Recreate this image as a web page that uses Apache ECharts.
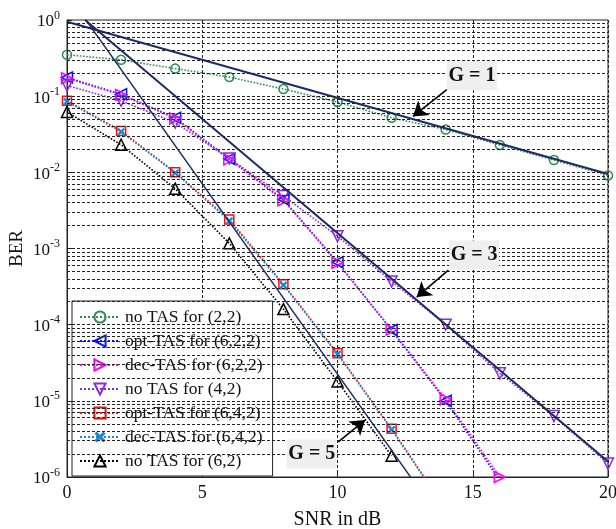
<!DOCTYPE html>
<html><head><meta charset="utf-8">
<script src="https://cdn.jsdelivr.net/npm/echarts@6/dist/echarts.min.js"></script>
<style>html,body{margin:0;padding:0;background:#fff}#c{width:616px;height:529px}</style>
</head><body><div id="c"></div>
<script>
// ---- data ----
const snr = [0, 2, 4, 6, 8, 10, 12, 14, 16, 18, 20];
const xTicks = [0, 5, 10, 15, 20];
const noTAS22   = [0.35, 0.30, 0.23, 0.178, 0.124, 0.084, 0.052, 0.0365, 0.0229, 0.0145, 0.0091];
const optTAS622 = [0.176, 0.106, 0.052, 0.0150, 0.0044, 6.6e-4, 8.5e-5, 1.0e-5, 9e-7];
const decTAS622 = [0.172, 0.104, 0.051, 0.0148, 0.0043, 6.5e-4, 8.6e-5, 1.05e-5, 1.0e-6];
const noTAS42   = [0.138, 0.087, 0.045, 0.0152, 0.0049, 1.45e-3, 3.7e-4, 1.0e-4, 2.3e-5, 6.3e-6, 1.5e-6];
const optTAS642 = [0.087, 0.035, 0.0100, 2.4e-3, 3.4e-4, 4.2e-5, 4.3e-6, 3.8e-7];
const decTAS642 = [0.085, 0.034, 0.0098, 2.3e-3, 3.3e-4, 4.1e-5, 4.2e-6, 3.7e-7];
const noTAS62   = [0.062, 0.023, 6.1e-3, 1.17e-3, 1.6e-4, 1.8e-5, 1.9e-6];
// diversity-order reference lines (endpoints)
const g1Line = [[0, 0.95], [20, 0.0095]];
const g3Line = [[0.67, 1.0], [20, 1.6e-6]];
const g5Line = [[0.7, 1.0], [12.7, 1.0e-6]];
// annotations: label position and arrow (from -> to) in data coords
const g1Label = [14.97, 0.186], g1Arrow = [[14.04, 0.122], [12.79, 0.0542]];
const g3Label = [15.05, 8.2e-4], g3Arrow = [[14.1, 5.2e-4], [12.93, 2.3e-4]];
const g5Label = [9.05, 2.0e-6], g5Arrow = [[10.03, 2.9e-6], [11.02, 5.6e-6]];

const FONT = '"Liberation Serif", "Times New Roman", serif';
const pairs = arr => arr.map((v, i) => [snr[i], v]);

// horizontal dashed grid lines (k * 10^e)
const gridVals = [];
for (let e = -6; e <= 0; e++) for (let k = 1; k <= 9; k++) {
  const v = k * Math.pow(10, e);
  if (v > 1e-6 * 1.0001 && v < 0.9999) gridVals.push(v);
}

function dataSeries(name, arr, color, symbol, rotate, size, filled) {
  return {
    name, type: 'line', data: pairs(arr), symbol, symbolSize: size, symbolRotate: rotate,
    clip: true, z: 3,
    lineStyle: { color, width: 1.6, type: 'dotted' },
    itemStyle: filled ? { color, borderWidth: 0 } : { color: 'rgba(0,0,0,0)', borderColor: color, borderWidth: 1.5 },
    emphasis: { disabled: true }
  };
}
function gSeries(name, line, width, label, arrow) {
  return {
    name, type: 'line', data: line, symbol: 'none', clip: true, z: 4,
    lineStyle: { color: '#1c2a68', width }, emphasis: { disabled: true }, silent: true,
    markPoint: {
      silent: true, symbol: 'rect', symbolSize: [50, 29],
      itemStyle: { color: '#efefef' },
      label: { show: true, position: 'inside', formatter: name, color: '#111', fontFamily: FONT, fontWeight: 'bold', fontSize: 20 },
      data: [{ coord: label }]
    },
    markLine: {
      silent: true, symbol: ['none', 'arrow'], symbolSize: 14, animation: false, precision: 12,
      itemStyle: { color: '#000' },
      lineStyle: { color: '#000', width: 1.6, type: 'solid' }, label: { show: false },
      data: [[{ coord: arrow[0] }, { coord: arrow[1] }]]
    }
  };
}

const xSym = 'path://M2,0L5,3L8,0L10,2L7,5L10,8L8,10L5,7L2,10L0,8L3,5L0,2Z';

const chart = echarts.init(document.getElementById('c'), null, { renderer: 'canvas' });
chart.setOption({
  animation: false,
  backgroundColor: '#fff',
  grid: { left: 67, right: 8, top: 20, bottom: 52, containLabel: false, outerBoundsMode: 'none',
          show: true, borderColor: '#222', borderWidth: 1, backgroundColor: '#fff' },
  xAxis: {
    type: 'value', min: xTicks[0], max: xTicks[xTicks.length - 1], interval: 5,
    name: 'SNR in dB', nameLocation: 'middle', nameGap: 33,
    nameTextStyle: { fontFamily: FONT, fontSize: 20, color: '#111' },
    axisLine: { lineStyle: { color: '#222' } },
    axisTick: { inside: true, length: 5, lineStyle: { color: '#222' } },
    axisLabel: { fontFamily: FONT, fontSize: 18, color: '#111', margin: 7 },
    splitLine: { show: true, lineStyle: { color: '#222', type: [3, 2], width: 1 } }
  },
  yAxis: {
    type: 'log', logBase: 10, min: 1e-6, max: 1, splitNumber: 6,
    name: 'BER', nameLocation: 'middle', nameGap: 40, nameRotate: 90, nameMoveOverlap: false,
    nameTextStyle: { fontFamily: FONT, fontSize: 19, color: '#111' },
    axisLine: { lineStyle: { color: '#222' } },
    axisTick: { inside: true, length: 5, lineStyle: { color: '#222' } },
    splitLine: { show: false },
    axisLabel: {
      margin: 7,
      formatter: v => '{b|10}{s|' + Math.round(Math.log10(v)) + '}',
      rich: {
        b: { fontFamily: FONT, fontSize: 17, color: '#111', verticalAlign: 'bottom' },
        s: { fontFamily: FONT, fontSize: 12, color: '#111', verticalAlign: 'bottom', padding: [0, 0, 9, 0] }
      }
    }
  },
  legend: {
    left: 72, top: 301, orient: 'vertical',
    backgroundColor: '#fff', borderColor: '#222', borderWidth: 1,
    padding: [7, 10, 6, 7], itemGap: 6, itemWidth: 40, itemHeight: 14,
    textStyle: { fontFamily: FONT, fontSize: 17.5, color: '#111', lineHeight: 17 },
    data: ['no TAS for (2,2)', 'opt-TAS for (6,2,2)', 'dec-TAS for (6,2,2)', 'no TAS for (4,2)',
           'opt-TAS for (6,4,2)', 'dec-TAS for (6,4,2)', 'no TAS for (6,2)']
  },
  series: [
    {
      name: 'grid', type: 'line', data: [], silent: true, z: 1,
      markLine: {
        silent: true, symbol: ['none', 'none'], animation: false, label: { show: false }, precision: 12,
        lineStyle: { color: '#222', type: [3, 2], width: 1 },
        data: gridVals.map(v => ({ yAxis: v }))
      }
    },
    dataSeries('no TAS for (2,2)', noTAS22, '#2e8b57', 'circle', 0, 9, false),
    dataSeries('opt-TAS for (6,2,2)', optTAS622, '#0a14ff', 'triangle', 90, 11, false),
    dataSeries('dec-TAS for (6,2,2)', decTAS622, '#ff00ff', 'triangle', -90, 11, false),
    dataSeries('no TAS for (4,2)', noTAS42, '#8a2be2', 'triangle', 180, 11, false),
    dataSeries('opt-TAS for (6,4,2)', optTAS642, '#ff0a0a', 'rect', 0, 9, false),
    dataSeries('dec-TAS for (6,4,2)', decTAS642, '#1e88d0', xSym, 0, 8, true),
    dataSeries('no TAS for (6,2)', noTAS62, '#000000', 'triangle', 0, 11, false),
    gSeries('G = 1', g1Line, 2, g1Label, g1Arrow),
    gSeries('G = 3', g3Line, 2, g3Label, g3Arrow),
    gSeries('G = 5', g5Line, 1.3, g5Label, g5Arrow)
  ]
});
</script></body></html>
